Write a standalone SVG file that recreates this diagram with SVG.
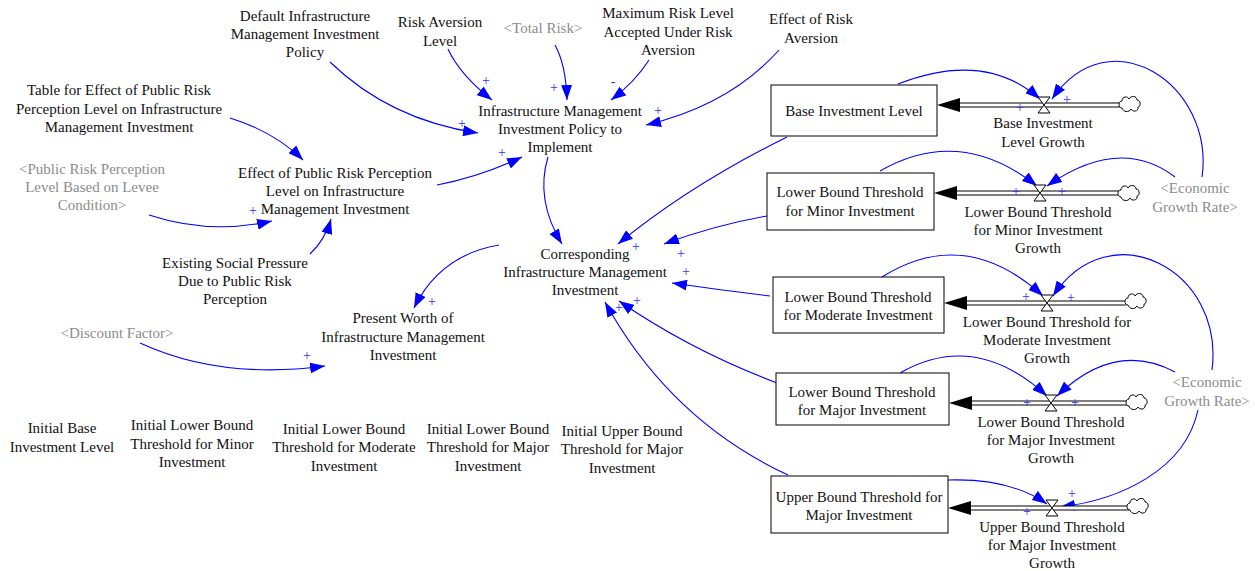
<svg xmlns="http://www.w3.org/2000/svg" width="1255" height="571" viewBox="0 0 1255 571">
  <defs>
    <style>
      text { font-family: "Liberation Serif", "Times New Roman", serif; font-size: 15px; fill: #111; text-anchor: middle; }
      text.ghost { fill: #8c8c8c; }
      text.pol { fill: #3030ff; font-size: 14px; }
      .link { fill: none; stroke: #0000ff; stroke-width: 1.1; marker-end: url(#ah); }
      .stock { fill: #fff; stroke: #000; stroke-width: 1; }
      .pipeo { stroke: #000; stroke-width: 5; fill: none; }
      .pipei { stroke: #fff; stroke-width: 3; fill: none; }
      .valve { fill: #fff; stroke: #000; stroke-width: 1; }
      .cloud { fill: #fff; stroke: #000; stroke-width: 1; }
    </style>
    <marker id="ah" markerUnits="userSpaceOnUse" markerWidth="15" markerHeight="11" refX="15" refY="5.5" orient="auto">
      <path d="M0,0 L15,5.5 L0,11 Z" fill="#0000ff"/>
    </marker>
    <path id="cloudShape" d="M-8,4 C-12,4 -12,-3 -8,-3 C-8,-8 -2,-8 -1,-5 C1,-9 7,-8 7,-4 C11,-4 11,3 8,3 C9,8 2,8 1,5 C-1,9 -7,8 -8,4 Z"/>
    <path id="valveShape" d="M-6,-8 L6,-8 L0,0 Z M-6,8 L6,8 L0,0 Z"/>
    <path id="flowHead" d="M0,0 L23,-7 L23,7 Z"/>
  </defs>
  <rect width="1255" height="571" fill="#fff"/>

  <!-- causal links and flow pipes -->
  <g id="connectors">
    <path class="link" d="M330,62 Q390,120 478,133"/>
    <path class="link" d="M448,49 Q460,75 492,100"/>
    <path class="link" d="M555,45 Q566,65 567,100"/>
    <path class="link" d="M649,60 Q635,82 611,100"/>
    <path class="link" d="M779,50 Q730,105 646,125"/>
    <path class="link" d="M230,118 Q275,132 303,160"/>
    <path class="link" d="M149,215 Q210,235 272,221"/>
    <path class="link" d="M310,254 Q325,240 331,219"/>
    <path class="link" d="M437,185 Q480,177 522,157"/>
    <path class="link" d="M548,157 Q535,200 562,244"/>
    <path class="link" d="M787,137 Q690,185 618,244"/>
    <path class="link" d="M767,216 Q715,225 664,244"/>
    <path class="link" d="M770,296 Q720,290 672,283"/>
    <path class="link" d="M777,383 Q690,350 619,301"/>
    <path class="link" d="M788,475 Q670,420 605,302"/>
    <path class="link" d="M499,245 Q440,255 414,308"/>
    <path class="link" d="M140,343 Q220,380 325,366"/>

    <!-- stock to growth links -->
    <path class="link" d="M898,84 Q985,50 1040,99"/>
    <path class="link" d="M1202,177 C1215,85 1110,15 1052,99"/>
    <path class="link" d="M880,171 Q960,125 1037,186"/>
    <path class="link" d="M1175,177 Q1120,135 1047,186"/>
    <path class="link" d="M882,277 Q965,225 1043,296"/>
    <path class="link" d="M1212,370 C1225,270 1110,210 1053,296"/>
    <path class="link" d="M900,373 Q975,330 1047,396"/>
    <path class="link" d="M1175,372 Q1115,340 1057,396"/>
    <path class="link" d="M948,480 Q1010,478 1047,504"/>
    <path class="link" d="M1198,410 C1185,470 1120,500 1060,507"/>

    <!-- pipes -->
    <path class="pipeo" d="M958,105 H1120"/><path class="pipei" d="M955,105 H1121"/>
    <path class="pipeo" d="M955,193 H1119"/><path class="pipei" d="M952,193 H1120"/>
    <path class="pipeo" d="M965,303 H1126"/><path class="pipei" d="M962,303 H1127"/>
    <path class="pipeo" d="M970,403 H1128"/><path class="pipei" d="M967,403 H1129"/>
    <path class="pipeo" d="M968,508 H1129"/><path class="pipei" d="M965,508 H1130"/>
    <use href="#flowHead" x="937" y="105"/>
    <use href="#flowHead" x="934" y="193"/>
    <use href="#flowHead" x="944" y="303"/>
    <use href="#flowHead" x="949" y="403"/>
    <use href="#flowHead" x="948" y="508"/>

    <!-- polarities -->
    <text class="pol" x="462" y="128">+</text>
    <text class="pol" x="486" y="85">+</text>
    <text class="pol" x="554" y="92">+</text>
    <text class="pol" x="613" y="86">-</text>
    <text class="pol" x="658" y="115">+</text>
    <text class="pol" x="253" y="215">+</text>
    <text class="pol" x="502" y="157">+</text>
    <text class="pol" x="636" y="251">+</text>
    <text class="pol" x="681" y="258">+</text>
    <text class="pol" x="686" y="276">+</text>
    <text class="pol" x="637" y="305">+</text>
    <text class="pol" x="619" y="312">+</text>
    <text class="pol" x="432" y="306">+</text>
    <text class="pol" x="307" y="360">+</text>
    <text class="pol" x="1020" y="112">+</text>
    <text class="pol" x="1067" y="104">+</text>
    <text class="pol" x="1016" y="196">+</text>
    <text class="pol" x="1062" y="196">+</text>
    <text class="pol" x="1026" y="301">+</text>
    <text class="pol" x="1071" y="302">+</text>
    <text class="pol" x="1027" y="407">+</text>
    <text class="pol" x="1075" y="407">+</text>
    <text class="pol" x="1027" y="516">+</text>
    <text class="pol" x="1072" y="498">+</text>
  </g>

  <!-- stocks -->
  <g id="base-investment-level">
    <rect class="stock" x="771" y="85" width="166" height="51"/>
    <text x="854" y="116">Base Investment Level</text>
  </g>
  <g id="lb-minor">
    <rect class="stock" x="767" y="173" width="167" height="57"/>
    <text x="850" y="197">Lower Bound Threshold</text>
    <text x="850" y="216">for Minor Investment</text>
  </g>
  <g id="lb-moderate">
    <rect class="stock" x="773" y="277" width="171" height="56"/>
    <text x="858" y="302">Lower Bound Threshold</text>
    <text x="858" y="320">for Moderate Investment</text>
  </g>
  <g id="lb-major">
    <rect class="stock" x="776" y="373" width="173" height="52"/>
    <text x="862" y="397">Lower Bound Threshold</text>
    <text x="862" y="415">for Major Investment</text>
  </g>
  <g id="ub-major">
    <rect class="stock" x="771" y="476" width="177" height="57"/>
    <text x="859" y="502">Upper Bound Threshold for</text>
    <text x="859" y="520">Major Investment</text>
  </g>

  <!-- flows -->
  <g id="base-growth">
    <use href="#valveShape" class="valve" x="1044" y="105"/>
    <use href="#cloudShape" class="cloud" x="1130" y="104"/>
    <text x="1043" y="128">Base Investment</text>
    <text x="1043" y="147">Level Growth</text>
  </g>
  <g id="lb-minor-growth">
    <use href="#valveShape" class="valve" x="1040" y="193"/>
    <use href="#cloudShape" class="cloud" x="1129" y="193"/>
    <text x="1038" y="217">Lower Bound Threshold</text>
    <text x="1038" y="235">for Minor Investment</text>
    <text x="1038" y="253">Growth</text>
  </g>
  <g id="lb-moderate-growth">
    <use href="#valveShape" class="valve" x="1047" y="303"/>
    <use href="#cloudShape" class="cloud" x="1136" y="301"/>
    <text x="1047" y="327">Lower Bound Threshold for</text>
    <text x="1047" y="345">Moderate Investment</text>
    <text x="1047" y="363">Growth</text>
  </g>
  <g id="lb-major-growth">
    <use href="#valveShape" class="valve" x="1051" y="403"/>
    <use href="#cloudShape" class="cloud" x="1137" y="402"/>
    <text x="1051" y="427">Lower Bound Threshold</text>
    <text x="1051" y="445">for Major Investment</text>
    <text x="1051" y="463">Growth</text>
  </g>
  <g id="ub-major-growth">
    <use href="#valveShape" class="valve" x="1052" y="508"/>
    <use href="#cloudShape" class="cloud" x="1138" y="506"/>
    <text x="1052" y="532">Upper Bound Threshold</text>
    <text x="1052" y="550">for Major Investment</text>
    <text x="1052" y="568">Growth</text>
  </g>

  <!-- auxiliaries -->
  <g id="default-policy">
    <text x="305" y="21">Default Infrastructure</text>
    <text x="305" y="39">Management Investment</text>
    <text x="305" y="57">Policy</text>
  </g>
  <g id="risk-aversion-level">
    <text x="440" y="27">Risk Aversion</text>
    <text x="440" y="46">Level</text>
  </g>
  <g id="total-risk">
    <text class="ghost" x="543" y="33">&lt;Total Risk&gt;</text>
  </g>
  <g id="max-risk-level">
    <text x="668" y="18">Maximum Risk Level</text>
    <text x="668" y="37">Accepted Under Risk</text>
    <text x="668" y="55">Aversion</text>
  </g>
  <g id="effect-risk-aversion">
    <text x="811" y="24">Effect of Risk</text>
    <text x="811" y="43">Aversion</text>
  </g>
  <g id="table-effect">
    <text x="119" y="95">Table for Effect of Public Risk</text>
    <text x="119" y="114">Perception Level on Infrastructure</text>
    <text x="119" y="132">Management Investment</text>
  </g>
  <g id="policy-to-implement">
    <text x="560" y="116">Infrastructure Management</text>
    <text x="560" y="134">Investment Policy to</text>
    <text x="560" y="152">Implement</text>
  </g>
  <g id="public-risk-perception">
    <text class="ghost" x="92" y="174">&lt;Public Risk Perception</text>
    <text class="ghost" x="92" y="192">Level Based on Levee</text>
    <text class="ghost" x="92" y="210">Condition&gt;</text>
  </g>
  <g id="effect-public-risk">
    <text x="335" y="178">Effect of Public Risk Perception</text>
    <text x="335" y="196">Level on Infrastructure</text>
    <text x="335" y="214">Management Investment</text>
  </g>
  <g id="social-pressure">
    <text x="235" y="268">Existing Social Pressure</text>
    <text x="235" y="286">Due to Public Risk</text>
    <text x="235" y="304">Perception</text>
  </g>
  <g id="corresponding-investment">
    <text x="585" y="259">Corresponding</text>
    <text x="585" y="277">Infrastructure Management</text>
    <text x="585" y="295">Investment</text>
  </g>
  <g id="present-worth">
    <text x="403" y="323">Present Worth of</text>
    <text x="403" y="342">Infrastructure Management</text>
    <text x="403" y="360">Investment</text>
  </g>
  <g id="discount-factor">
    <text class="ghost" x="117" y="338">&lt;Discount Factor&gt;</text>
  </g>
  <g id="economic-growth-rate-1">
    <text class="ghost" x="1195" y="193">&lt;Economic</text>
    <text class="ghost" x="1195" y="212">Growth Rate&gt;</text>
  </g>
  <g id="economic-growth-rate-2">
    <text class="ghost" x="1207" y="387">&lt;Economic</text>
    <text class="ghost" x="1207" y="406">Growth Rate&gt;</text>
  </g>

  <!-- initial values -->
  <g id="initial-base">
    <text x="62" y="433">Initial Base</text>
    <text x="62" y="452">Investment Level</text>
  </g>
  <g id="initial-lb-minor">
    <text x="192" y="430">Initial Lower Bound</text>
    <text x="192" y="449">Threshold for Minor</text>
    <text x="192" y="467">Investment</text>
  </g>
  <g id="initial-lb-moderate">
    <text x="344" y="434">Initial Lower Bound</text>
    <text x="344" y="452">Threshold for Moderate</text>
    <text x="344" y="471">Investment</text>
  </g>
  <g id="initial-lb-major">
    <text x="488" y="434">Initial Lower Bound</text>
    <text x="488" y="452">Threshold for Major</text>
    <text x="488" y="471">Investment</text>
  </g>
  <g id="initial-ub-major">
    <text x="622" y="436">Initial Upper Bound</text>
    <text x="622" y="454">Threshold for Major</text>
    <text x="622" y="473">Investment</text>
  </g>
</svg>
